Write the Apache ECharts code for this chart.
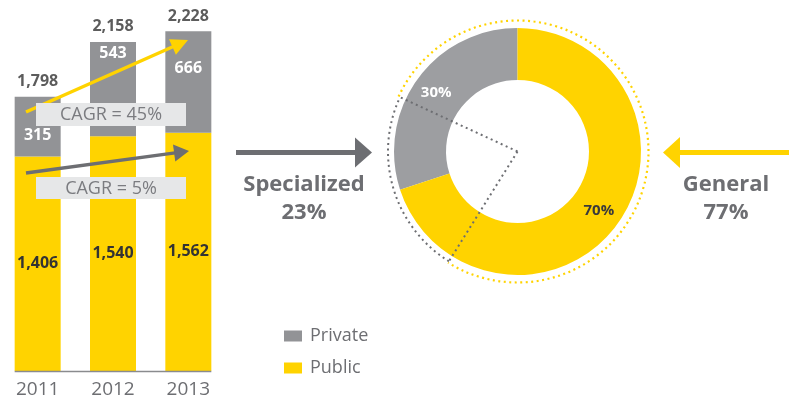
<!DOCTYPE html>
<html>
<head>
<meta charset="utf-8">
<script src="https://cdn.jsdelivr.net/npm/echarts@6/dist/echarts.min.js"></script>
<style>html,body{margin:0;padding:0;background:#fff}#c{width:789px;height:400px}</style>
</head>
<body>
<div id="c"></div>
<script>
const years = ['2011', '2012', '2013'];
const publicVals = [1406, 1540, 1562];
const privateVals = [315, 543, 666];
const totalVals = [1798, 2158, 2228];
const cagrLabels = ['CAGR = 45%', 'CAGR = 5%'];
const donutNames = ['Private', 'Public'];
const donutVals = [30, 70];
const specializedShare = 23;
const generalShare = 77;

const YELLOW = '#FFD300';
const GRAY_BAR = '#929396';
const GRAY_PIE = '#9d9ea1';
const GRAY_DARK = '#6d6e72';
const FONT = '"Open Sans", sans-serif';

const chart = echarts.init(document.getElementById('c'), null, {renderer: 'canvas'});

function arrow(x1, y1, x2, y2, color, lw, headLen, headW, z) {
  const a = Math.atan2(y2 - y1, x2 - x1);
  const c = Math.cos(a), s = Math.sin(a);
  const bx = x2 - headLen * c, by = y2 - headLen * s;
  const px = -s * headW / 2, py = c * headW / 2;
  return [
    {type: 'line', z: z, silent: true, shape: {x1: x1, y1: y1, x2: bx + c, y2: by + s}, style: {stroke: color, lineWidth: lw}},
    {type: 'polygon', z: z, silent: true, shape: {points: [[x2, y2], [bx + px, by + py], [bx - px, by - py]]}, style: {fill: color}}
  ];
}

const privateDraw = totalVals.map((t, i) => t - publicVals[i]);
const privOffsets = [26, -1, 24];

chart.setOption({
  animation: false,
  textStyle: {fontFamily: FONT},
  grid: {left: -2, width: 228, top: 5, bottom: 29, containLabel: false},
  xAxis: {
    type: 'category', data: years,
    axisLine: {show: false}, axisTick: {show: false},
    axisLabel: {color: GRAY_DARK, fontSize: 19, margin: 9, fontFamily: FONT}
  },
  yAxis: {type: 'value', min: 0, max: 2400, show: false, splitLine: {show: false}},
  legend: {
    orient: 'vertical', left: 279, top: 322, itemWidth: 18, itemHeight: 11, itemGap: 14,
    icon: 'rect', data: ['Private', 'Public'],
    textStyle: {color: GRAY_DARK, fontSize: 18, lineHeight: 18, fontFamily: FONT, padding: [0, 0, 0, 3]}
  },
  series: [
    {
      name: 'Public', type: 'bar', stack: 's', barWidth: 46, z: 2,
      itemStyle: {color: YELLOW},
      label: {show: true, position: 'inside', color: '#333', fontWeight: 'bold', fontSize: 16,
        formatter: p => publicVals[p.dataIndex].toLocaleString('en-US')},
      data: publicVals
    },
    {
      name: 'Private', type: 'bar', stack: 's', barWidth: 46, z: 2,
      itemStyle: {color: GRAY_BAR},
      label: {show: true, position: 'insideTop', distance: 5, color: '#fff', fontWeight: 'bold', fontSize: 16,
        formatter: p => privateVals[p.dataIndex].toLocaleString('en-US')},
      data: privateDraw.map((v, i) => ({value: v, label: {offset: [0, privOffsets[i]]}}))
    },
    {
      name: 'Total', type: 'scatter', symbolSize: 0, silent: true,
      label: {show: true, position: 'top', distance: 7, color: '#333', fontWeight: 'bold', fontSize: 16,
        formatter: p => totalVals[p.dataIndex].toLocaleString('en-US')},
      data: totalVals
    },
    {
      name: 'Donut', type: 'pie', center: [517.5, 151.5], radius: [71.5, 123.5],
      startAngle: 90, clockwise: false, avoidLabelOverlap: false, silent: true,
      emphasis: {disabled: true},
      label: {show: true, position: 'inside', fontWeight: 'bold', fontSize: 15, formatter: '{c}%'},
      labelLine: {show: false},
      data: [
        {name: donutNames[0], value: donutVals[0], itemStyle: {color: GRAY_PIE}, label: {color: '#fff'}},
        {name: donutNames[1], value: donutVals[1], itemStyle: {color: YELLOW}, label: {color: '#3a3a3c'}}
      ]
    }
  ]
});

// Annotations
const p0 = chart.convertToPixel({gridIndex: 0}, [0, 0]);
const p2 = chart.convertToPixel({gridIndex: 0}, [2, 0]);
const cx = 517.5, cy = 151.5, rDot = 131;
const startDeg = 122; // screen angle where the specialized wedge starts (bottom-left)
const endDeg = startDeg + specializedShare / 100 * 360;
const rad = d => d * Math.PI / 180;
const graphics = [];
graphics.push({type: 'line', z: 5, silent: true, shape: {x1: p0[0] - 23, y1: p0[1] + 0.5, x2: p2[0] + 23, y2: p0[1] + 0.5}, style: {stroke: '#8a8b8e', lineWidth: 1.5}});
graphics.push(...arrow(26, 112, 188, 40, YELLOW, 3.5, 17, 17, 10));
graphics.push(...arrow(26, 173, 189, 151, GRAY_DARK, 3.5, 15, 17, 10));
graphics.push({type: 'rect', z: 11, silent: true, shape: {x: 36, y: 103, width: 150, height: 23}, style: {fill: '#e6e7e8'}});
graphics.push({type: 'rect', z: 11, silent: true, shape: {x: 36, y: 177, width: 150, height: 22}, style: {fill: '#e6e7e8'}});
graphics.push({type: 'text', z: 12, silent: true, x: 111, y: 115, style: {text: cagrLabels[0], fill: '#7b7c80', font: '18px ' + FONT, textAlign: 'center', textVerticalAlign: 'middle'}});
graphics.push({type: 'text', z: 12, silent: true, x: 111, y: 188.5, style: {text: cagrLabels[1], fill: '#7b7c80', font: '18px ' + FONT, textAlign: 'center', textVerticalAlign: 'middle'}});
// big arrows
graphics.push(...arrow(236, 152.5, 372, 152.5, GRAY_DARK, 5, 17, 30, 10));
graphics.push(...arrow(789, 152.5, 663, 152.5, YELLOW, 5, 17, 31, 10));
// dotted circle parts
graphics.push({type: 'arc', z: 10, silent: true, shape: {cx: cx, cy: cy, r: rDot, startAngle: rad(endDeg), endAngle: rad(startDeg + 360), clockwise: true},
  style: {stroke: YELLOW, lineWidth: 2.2, lineDash: [2, 3.5], fill: null}});
graphics.push({type: 'arc', z: 10, silent: true, shape: {cx: cx, cy: cy, r: rDot - 1.5, startAngle: rad(startDeg), endAngle: rad(endDeg), clockwise: true},
  style: {stroke: GRAY_DARK, lineWidth: 2, lineDash: [2, 3.5], fill: null}});
[startDeg, endDeg].forEach(d => {
  graphics.push({type: 'line', z: 10, silent: true,
    shape: {x1: cx, y1: cy, x2: cx + (rDot - 1.5) * Math.cos(rad(d)), y2: cy + (rDot - 1.5) * Math.sin(rad(d))},
    style: {stroke: GRAY_DARK, lineWidth: 2, lineDash: [2, 3.5]}});
});
// side texts
graphics.push({type: 'text', z: 12, silent: true, x: 304, y: 199, style: {text: 'Specialized\n' + specializedShare + '%', fill: GRAY_DARK, font: 'bold 22px ' + FONT, lineHeight: 28, textAlign: 'center', textVerticalAlign: 'middle'}});
graphics.push({type: 'text', z: 12, silent: true, x: 726, y: 199, style: {text: 'General\n' + generalShare + '%', fill: GRAY_DARK, font: 'bold 22px ' + FONT, lineHeight: 28, textAlign: 'center', textVerticalAlign: 'middle'}});

chart.setOption({graphic: {elements: graphics}});
</script>
</body>
</html>
